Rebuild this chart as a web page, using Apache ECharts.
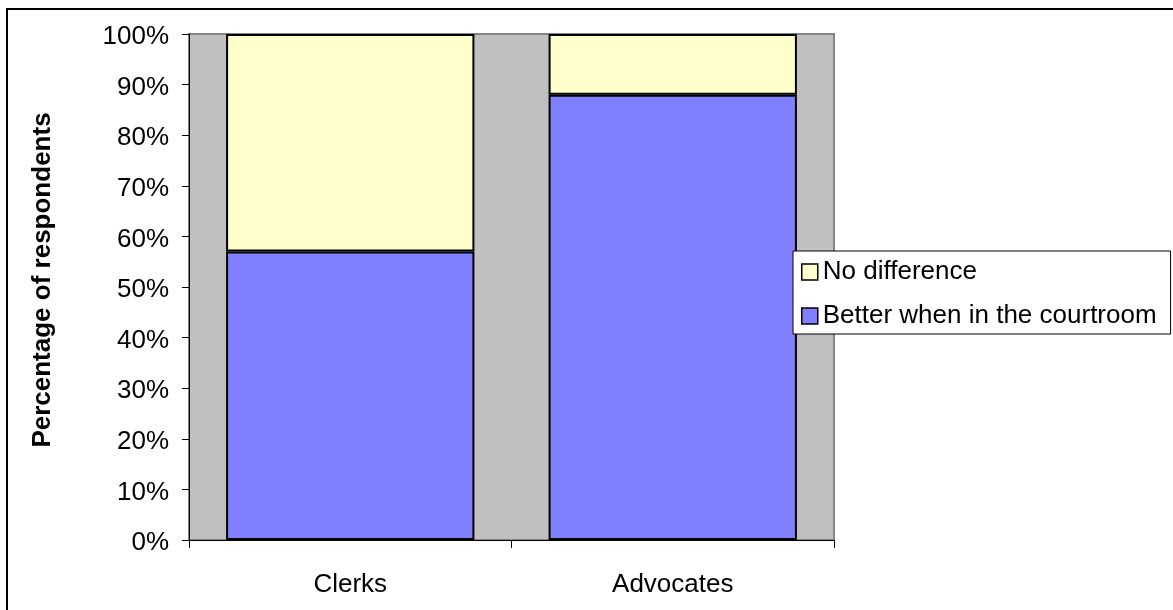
<!DOCTYPE html>
<html>
<head>
<meta charset="utf-8">
<script src="https://cdn.jsdelivr.net/npm/echarts@6/dist/echarts.min.js"></script>
<style>
html,body{margin:0;padding:0;background:#fff;}
#c{width:1173px;height:610px;}
</style>
</head>
<body>
<div id="c"></div>
<script>
const categories = ['Clerks', 'Advocates'];
const betterValues = [57, 88];
const noDiffValues = [43, 12];
const yTicks = [0, 10, 20, 30, 40, 50, 60, 70, 80, 90, 100];

const chart = echarts.init(document.getElementById('c'), null, {renderer: 'canvas'});
const font = 'Liberation Sans, Arial, sans-serif';
chart.setOption({
  animation: false,
  backgroundColor: '#ffffff',
  textStyle: {fontFamily: font},
  graphic: [{
    type: 'rect', silent: true, z: -10,
    shape: {x: 7, y: 9, width: 1400, height: 900},
    style: {fill: 'none', stroke: '#000', lineWidth: 2}
  }],
  grid: {
    left: 189, right: 339, top: 34, bottom: 70,
    show: true, backgroundColor: '#C0C0C0', borderColor: '#858585', borderWidth: 2
  },
  legend: {
    orient: 'vertical',
    left: 793, top: 251,
    data: ['No difference', 'Better when in the courtroom'],
    backgroundColor: '#ffffff',
    borderColor: '#000', borderWidth: 1,
    padding: [8, 14, 5, 8],
    itemWidth: 16, itemHeight: 16, itemGap: 18,
    icon: 'rect',
    itemStyle: {borderWidth: 1.5, borderColor: '#000'},
    textStyle: {fontSize: 26, color: '#000', fontFamily: font},
    z: 10
  },
  xAxis: {
    type: 'category',
    data: categories,
    axisLine: {lineStyle: {color: '#000', width: 1}},
    axisTick: {show: true, length: 8, lineStyle: {color: '#000'}},
    axisLabel: {fontSize: 26, color: '#000', margin: 32, fontFamily: font},
    splitLine: {show: false}
  },
  yAxis: {
    type: 'value',
    min: 0, max: 100, interval: 10,
    name: 'Percentage of respondents',
    nameLocation: 'middle',
    nameGap: 133,
    nameTextStyle: {fontSize: 26, fontWeight: 'bold', color: '#000', fontFamily: font, padding: [0, 0, 0, 14]},
    axisLine: {show: true, lineStyle: {color: '#000', width: 1}},
    axisTick: {show: true, length: 7, lineStyle: {color: '#000'}},
    axisLabel: {
      fontSize: 26, color: '#000', margin: 20, fontFamily: font,
      formatter: function (v) { return yTicks.indexOf(v) >= 0 ? '{a|' + v + '%}' : ''; },
      rich: {a: {fontSize: 26, color: '#000', fontFamily: font, padding: [6, 0, 0, 0]}}
    },
    splitLine: {show: false}
  },
  series: [
    {
      name: 'Better when in the courtroom',
      type: 'bar', stack: 'total',
      data: betterValues,
      barCategoryGap: '23%',
      itemStyle: {color: '#8080FF', borderColor: '#000', borderWidth: 2}
    },
    {
      name: 'No difference',
      type: 'bar', stack: 'total',
      data: noDiffValues,
      barCategoryGap: '23%',
      itemStyle: {color: '#FFFFCC', borderColor: '#000', borderWidth: 2}
    }
  ]
});
</script>
</body>
</html>
